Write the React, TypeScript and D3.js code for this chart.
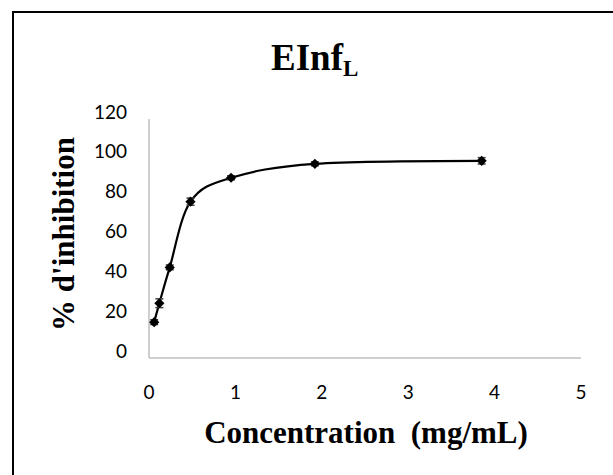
import React from "react";
import * as d3 from "d3";

const concentrations = [0.06, 0.12, 0.24, 0.48, 0.95, 1.92, 3.85];
const inhibition = [18, 27.5, 45.5, 78.5, 90.5, 97.5, 99];
const errors = [1.2, 2.2, 1.2, 1.8, 1.0, 1.0, 1.6];
const xTicks = [0, 1, 2, 3, 4, 5];
const yTicks = [0, 20, 40, 60, 80, 100, 120];

const W = 613;
const H = 475;

export default function App() {
  const x = d3.scaleLinear().domain([0, 5]).range([149, 581]);
  const y = d3.scaleLinear().domain([0, 120]).range([358, 119]);
  const pts = concentrations.map((c, i) => ({ c, v: inhibition[i], e: errors[i] }));
  const line = d3
    .line<{ c: number; v: number }>()
    .x((d) => x(d.c))
    .y((d) => y(d.v))
    .curve(d3.curveCardinal.tension(0));
  const marker = d3.symbol().type(d3.symbolSquare).size(52)();
  const tickFont = "Lato, 'Open Sans', sans-serif";
  const serif = "'Liberation Serif', 'Times New Roman', serif";
  return (
    <svg
      width={W}
      height={H}
      style={{ position: "absolute", left: 0, top: 0, background: "#fff" }}
    >
      <rect x={0} y={0} width={W} height={H} fill="#fff" />
      <rect x={13} y={12} width={700} height={600} fill="none" stroke="#000" strokeWidth={2} />
      <text
        x={271}
        y={70}
        fontFamily={serif}
        fontWeight="bold"
        fontSize={37}
        fill="#000"
      >
        EInf
        <tspan fontSize={23} dy={6}>L</tspan>
      </text>
      {/* axes */}
      <line x1={x(0)} x2={x(0)} y1={y(120)} y2={y(0)} stroke="#bfbfbf" strokeWidth={1.5} />
      <line x1={x(0)} x2={x(5)} y1={y(0)} y2={y(0)} stroke="#bfbfbf" strokeWidth={1.5} />
      {yTicks.map((t) => (
        <text
          key={"y" + t}
          x={127}
          y={y(t) - 8}
          textAnchor="end"
          dominantBaseline="central"
          fontFamily={tickFont}
          fontSize={19}
          fill="#000"
        >
          {t}
        </text>
      ))}
      {xTicks.map((t) => (
        <text
          key={"x" + t}
          x={x(t)}
          y={391}
          textAnchor="middle"
          dominantBaseline="central"
          fontFamily={tickFont}
          fontSize={19}
          fill="#000"
        >
          {t}
        </text>
      ))}
      <text
        x={366}
        y={443}
        textAnchor="middle"
        fontFamily={serif}
        fontWeight="bold"
        fontSize={31}
        fill="#000"
        style={{ whiteSpace: "pre" }}
      >
        {"Concentration  (mg/mL)"}
      </text>
      <text
        transform={`translate(74, 234) rotate(-90)`}
        textAnchor="middle"
        fontFamily={serif}
        fontWeight="bold"
        fontSize={31}
        fill="#000"
      >
        % d'inhibition
      </text>
      <path d={line(pts) || ""} fill="none" stroke="#000" strokeWidth={2.2} />
      {pts.map((p, i) => (
        <g key={"e" + i} stroke="#404040" strokeWidth={1.5}>
          <line x1={x(p.c)} x2={x(p.c)} y1={y(p.v + p.e)} y2={y(p.v - p.e)} />
          <line x1={x(p.c) - 4} x2={x(p.c) + 4} y1={y(p.v + p.e)} y2={y(p.v + p.e)} />
          <line x1={x(p.c) - 4} x2={x(p.c) + 4} y1={y(p.v - p.e)} y2={y(p.v - p.e)} />
        </g>
      ))}
      {pts.map((p, i) => (
        <path
          key={"m" + i}
          d={marker || ""}
          transform={`translate(${x(p.c)},${y(p.v)}) rotate(45)`}
          fill="#000"
        />
      ))}
    </svg>
  );
}
